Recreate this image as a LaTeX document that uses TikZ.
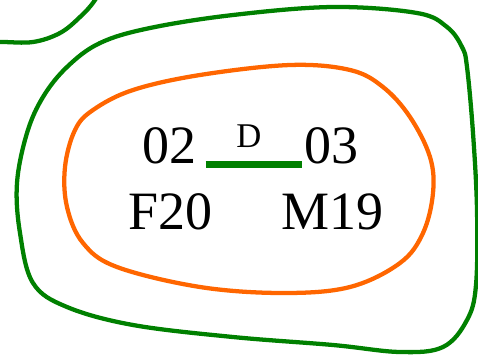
\documentclass[tikz,border=0pt]{standalone}
\usepackage{fontspec}
\setmainfont{Liberation Serif}
\usetikzlibrary{positioning}
\definecolor{ringgreen}{RGB}{0,128,0}
\definecolor{ringorange}{RGB}{255,102,0}

\begin{document}
\begin{tikzpicture}[x=0.75pt, y=-0.75pt, line join=round, line cap=round,
  ring/.style={line width=3.2pt},
  ident/.style={inner sep=0pt, font=\fontsize{40.5}{48}\selectfont},
  kin/.style={ringgreen, line width=5.25pt, line cap=butt},
  kinlab/.style={black, inner sep=0pt, font=\fontsize{26}{30}\selectfont}]
\useasboundingbox (0,0) rectangle (478,354);
\clip (0,0) rectangle (478,354);
% neighbouring ring, top left
\draw[ring, ringgreen] plot[smooth, tension=0.6] coordinates
  {(-30,43) (0,42) (33,42) (60,33) (80,17) (95,0) (108,-25)};
% outer ring
\draw[ring, ringgreen] plot[smooth cycle, tension=0.6] coordinates
  {(150,28) (233,15) (333,7) (417,13) (447,27) (462,47) (467,67)
   (473,133) (477,210) (476,285) (467,320) (443,347) (400,352)
   (333,345) (233,337) (133,325) (67,307) (33,283) (20,233)
   (17,183) (27,133) (43,97) (67,67) (100,43)};
% inner ring
\draw[ring, ringorange] plot[smooth cycle, tension=0.6] coordinates
  {(200,75) (290,65) (350,70) (383,87) (410,117) (430,157) (433,193)
   (423,233) (400,263) (350,287) (283,293) (200,287) (117,267)
   (83,243) (67,207) (65,167) (75,130) (93,110) (133,90)};
% individuals
\node[ident, anchor=base west] (n02) at (142,163) {02};
\node[ident, anchor=base west] (n03) at (304,163) {03};
\node[ident, anchor=base west] (f20) at (128,229) {F20};
\node[ident, anchor=base west] (m19) at (281,229) {M19};
% link between 02 and 03
\draw[kin] ([xshift=6.75pt, yshift=-0.75pt]n02.base east) -- ([xshift=-1.5pt, yshift=-0.75pt]n03.base west)
  node[kinlab, midway, anchor=base, yshift=12.75pt, xshift=-3.75pt] (d) {D};
\end{tikzpicture}
\end{document}
